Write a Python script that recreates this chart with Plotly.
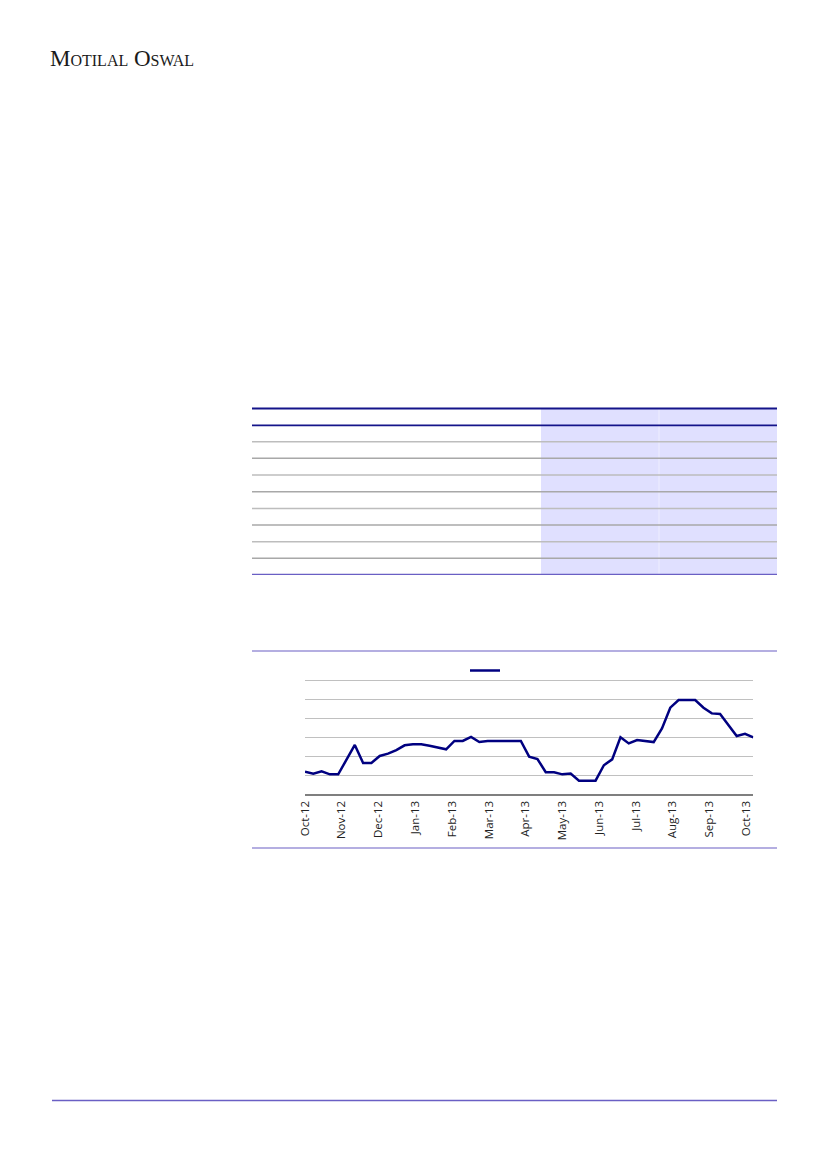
"""
Page recreation: header, empty table grid and weekly line chart.
"""

import pandas as pd
import plotly.graph_objects as go

W, H = 827, 1169

# weekly observations, Oct-12 to Oct-13
week_dates = list(pd.date_range("2012-10-01", periods=55, freq="7D"))
series_values = [
    1.19, 1.09, 1.21, 1.05, 1.05, 1.84, 2.60, 1.65, 1.65, 2.02,
    2.14, 2.33, 2.58, 2.63, 2.63, 2.56, 2.47, 2.37, 2.81, 2.81,
    3.02, 2.75, 2.81, 2.81, 2.81, 2.81, 2.81, 1.98, 1.86, 1.16,
    1.16, 1.05, 1.09, 0.72, 0.72, 0.72, 1.53, 1.84, 3.00, 2.68,
    2.86, 2.82, 2.75, 3.47, 4.56, 4.96, 4.96, 4.96, 4.56, 4.26,
    4.23, 3.65, 3.07, 3.18, 3.00,
]
series_name = ""
header_text = "Motilal Oswal"

NAVY = "#000080"
RULE = "#6a5fc4"


def px_x(v):
    return v / W


def px_y(v):
    return 1 - v / H


def hline(y, x0, x1, color, width):
    return dict(type="line", xref="paper", yref="paper",
                x0=px_x(x0), x1=px_x(x1), y0=px_y(y), y1=px_y(y),
                line=dict(color=color, width=width), layer="above")


fig = go.Figure()
fig.add_trace(go.Scatter(
    x=week_dates, y=series_values, mode="lines", name=series_name,
    line=dict(color=NAVY, width=2.5), showlegend=True,
))

shapes = []
# table shading and rules
shapes.append(dict(type="rect", xref="paper", yref="paper",
                   x0=px_x(541), x1=px_x(777), y0=px_y(574), y1=px_y(408),
                   fillcolor="#e0e0ff", line_width=0, layer="below"))
shapes.append(dict(type="line", xref="paper", yref="paper",
                   x0=px_x(659), x1=px_x(659), y0=px_y(574), y1=px_y(408),
                   line=dict(color="#eeeeff", width=1), layer="below"))
shapes.append(hline(408.5, 252, 777, "#14148a", 2.2))
shapes.append(hline(425.3, 252, 777, "#14148a", 1.8))
for i, yy in enumerate([441.7, 458.3, 475, 491.7, 508.5, 525, 541.7, 558.3]):
    shapes.append(hline(yy, 252, 777, "#bdbdbd" if i % 2 == 0 else "#a8a8a8", 1.5))
shapes.append(hline(574.3, 252, 777, RULE, 1.2))
# chart frame and footer rules
shapes.append(hline(651, 252, 777, RULE, 1.2))
shapes.append(hline(848, 252, 777, RULE, 1.2))
shapes.append(hline(1100.5, 52, 777, RULE, 1.5))

fig.update_layout(
    width=W, height=H,
    margin=dict(l=0, r=0, t=0, b=0, autoexpand=False),
    paper_bgcolor="white", plot_bgcolor="white",
    shapes=shapes,
    showlegend=True,
    legend=dict(x=px_x(465), y=px_y(656), xanchor="left", yanchor="top",
                orientation="h", bgcolor="rgba(0,0,0,0)",
                font=dict(size=10, family="Open Sans")),
    annotations=[dict(
        text=header_text, xref="paper", yref="paper",
        x=px_x(48), y=px_y(59), xanchor="left", yanchor="middle",
        showarrow=False,
        font=dict(family="Liberation Serif", size=23, color="#1a1a1a",
                  variant="small-caps"),
    )],
)

fig.update_xaxes(
    domain=[px_x(305), px_x(753.3)],
    type="date", automargin=False,
    range=[week_dates[0], week_dates[-1]],
    tick0="2012-10-01", dtick=31 * 86400000,
    tickformat="%b-%y", tickangle=-90,
    tickfont=dict(family="Open Sans", size=11.5, color="#222"),
    showgrid=False, showline=True, linecolor="#7f7f7f", linewidth=2,
    ticks="", zeroline=False,
)
fig.update_yaxes(
    domain=[px_y(794.3), px_y(677.5)],
    range=[0, 6.15], dtick=1, automargin=False,
    showticklabels=False, showgrid=True, gridcolor="#c0c0c0", gridwidth=1,
    zeroline=False, showline=False, ticks="",
)

# page-like layout: no body margin, no scrollbars
fig.write_html(
    "out.html",
    config={"displayModeBar": False},
    post_script="document.body.style.margin='0';document.body.style.overflow='hidden';",
)
